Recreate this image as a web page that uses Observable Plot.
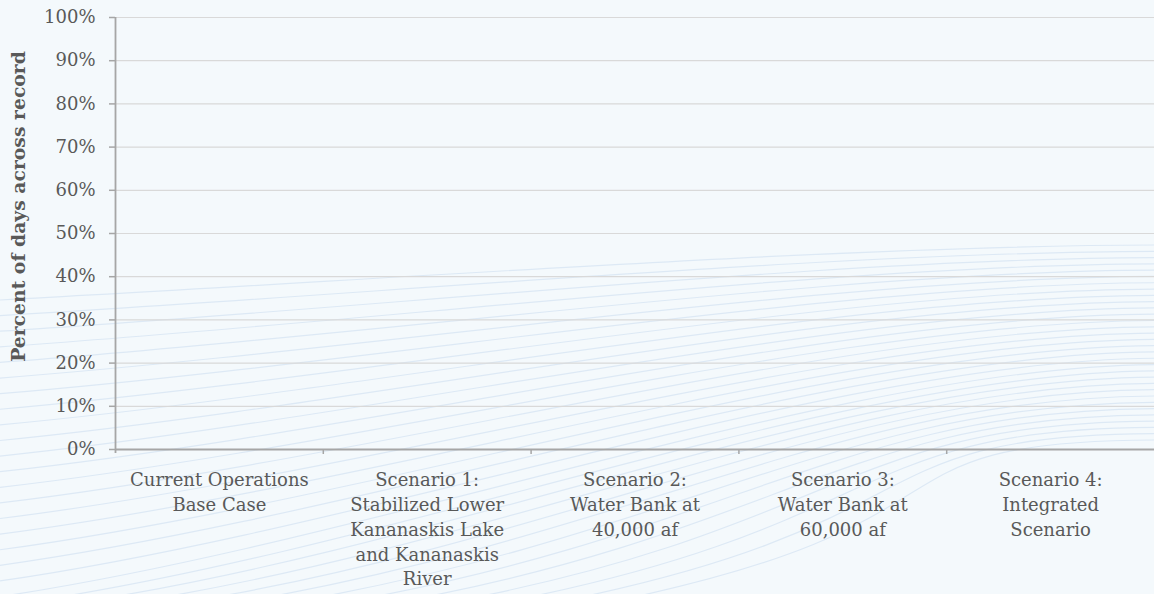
<!DOCTYPE html>
<html>
<head>
<meta charset="utf-8">
<script src="https://cdn.jsdelivr.net/npm/d3@7"></script>
<script src="https://cdn.jsdelivr.net/npm/@observablehq/plot@0.6"></script>
<style>
  html, body { margin: 0; padding: 0; background: #f4f9fc; }
  #wrap { position: relative; width: 1154px; height: 594px; overflow: hidden; }
  #bg, #chart { position: absolute; left: 0; top: 0; }
</style>
</head>
<body>
<div id="wrap"><svg id="bg" width="1154" height="594"></svg><div id="chart"></div></div>
<script>
// ---- data ----
const categories = [
  "Current Operations\nBase Case",
  "Scenario 1:\nStabilized Lower\nKananaskis Lake\nand Kananaskis\nRiver",
  "Scenario 2:\nWater Bank at\n40,000 af",
  "Scenario 3:\nWater Bank at\n60,000 af",
  "Scenario 4:\nIntegrated\nScenario"
];
const values = [null, null, null, null, null]; // no bars shown in the chart
const yTicks = [0, 0.1, 0.2, 0.3, 0.4, 0.5, 0.6, 0.7, 0.8, 0.9, 1.0];
const yTitle = "Percent of days across record";

// ---- decorative background curves ----
(function () {
  const bg = d3.select("#bg");
  const n = 32;
  for (let k = 0; k < n; k++) {
    const t = k / (n - 1);
    let sx, sy;
    if (t < 0.62) { sx = 0; sy = 300 + (t / 0.62) * 300; }
    else { sx = ((t - 0.62) / 0.38) * 620; sy = 600; }
    const ey = 245 + t * 195;
    const p = d3.path();
    p.moveTo(sx, sy);
    p.bezierCurveTo(sx + 380, sy - 20 - t * 60, 850, ey, 1160, ey);
    bg.append("path").attr("d", p.toString()).attr("fill", "none")
      .attr("stroke", "#dde9f5").attr("stroke-width", 1.2);
  }
})();

// ---- chart ----
const data = categories.map((c, i) => ({i, c, v: values[i]}));
const boundaries = d3.range(1, categories.length);
const centers = d3.range(categories.length).map(i => i + 0.5);
const textColor = "#595959";
const axisColor = "#a6a6a6";

const chart = Plot.plot({
  width: 1154,
  height: 594,
  marginLeft: 115,
  marginRight: 0,
  marginTop: 17,
  marginBottom: 145,
  style: {background: "transparent", fontFamily: "'DejaVu Serif', Georgia, serif", fontSize: "18px", color: textColor},
  x: {domain: [0, categories.length], axis: null},
  y: {domain: [0, 1], axis: null},
  marks: [
    Plot.ruleY(yTicks.filter(d => d > 0), {stroke: "#d9d9d9", strokeWidth: 1.2}),
    Plot.rectY(data.filter(d => d.v != null), {x1: "i", x2: d => d.i + 1, y: "v", fill: "#4472c4"}),
    Plot.axisY(yTicks, {tickSize: 6, tickPadding: 14, tickFormat: d3.format(".0%"), stroke: axisColor, strokeWidth: 1.5, fill: textColor, label: null, fontSize: 18}),
    Plot.ruleX([0], {stroke: axisColor, strokeWidth: 1.8, insetBottom: -4}),
    Plot.ruleY([0], {stroke: axisColor, strokeWidth: 1.8}),
    Plot.axisX(boundaries, {tickSize: 5, tickFormat: () => "", stroke: axisColor, strokeWidth: 1.5, label: null}),
    Plot.axisX(centers, {tickSize: 0, tickPadding: 19, lineHeight: 1.38, tickFormat: d => categories[Math.floor(d)], fill: textColor, label: null, fontSize: 18}),
    Plot.text([yTitle], {frameAnchor: "left", textAnchor: "middle", rotate: -90, dx: -97, dy: -27, fontWeight: "bold", fontSize: 18.8, fill: textColor})
  ]
});
document.getElementById("chart").appendChild(chart);
</script>
</body>
</html>
